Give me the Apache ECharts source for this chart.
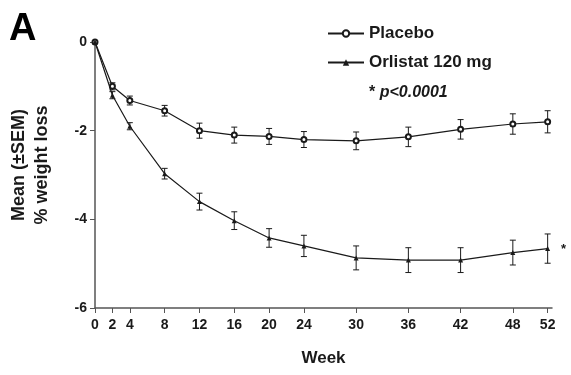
<!DOCTYPE html>
<html>
<head>
<meta charset="utf-8">
<script src="https://cdn.jsdelivr.net/npm/echarts@6/dist/echarts.min.js"></script>
<style>
html,body{margin:0;padding:0;background:#fff;}
#main{width:571px;height:375px;}
</style>
</head>
<body>
<div id="main"></div>
<script>
'use strict'
// data
var weeks = [0, 2, 4, 8, 12, 16, 20, 24, 30, 36, 42, 48, 52];
var placebo = [0, -1.0, -1.32, -1.55, -2.0, -2.1, -2.13, -2.2, -2.23, -2.14, -1.97, -1.85, -1.8];
var placeboSem = [0, 0.08, 0.1, 0.12, 0.17, 0.18, 0.18, 0.18, 0.2, 0.22, 0.22, 0.23, 0.25];
var orlistat = [0, -1.2, -1.9, -2.97, -3.6, -4.03, -4.42, -4.6, -4.87, -4.92, -4.92, -4.75, -4.66];
var orlistatSem = [0, 0.08, 0.08, 0.12, 0.19, 0.2, 0.21, 0.24, 0.27, 0.28, 0.28, 0.28, 0.33];

var FONT = '"Liberation Sans", Arial, sans-serif';
var INK = '#1a1a1a';

function pairs(ys){
	var out = [];
	for (var i = 0; i < weeks.length; i++) out.push([weeks[i], ys[i]]);
	return out;
}
function errRows(ys, sem){
	var out = [];
	for (var i = 0; i < weeks.length; i++){
		if (sem[i] > 0) out.push([weeks[i], ys[i] - sem[i], ys[i] + sem[i]]);
	}
	return out;
}
function errBar(params, api){
	var lo = api.coord([api.value(0), api.value(1)]);
	var hi = api.coord([api.value(0), api.value(2)]);
	var w = 3;
	var st = {stroke: INK, lineWidth: 1};
	return {
		type: 'group',
		children: [
			{type: 'line', shape: {x1: lo[0], y1: lo[1], x2: hi[0], y2: hi[1]}, style: st},
			{type: 'line', shape: {x1: lo[0] - w, y1: lo[1], x2: lo[0] + w, y2: lo[1]}, style: st},
			{type: 'line', shape: {x1: hi[0] - w, y1: hi[1], x2: hi[0] + w, y2: hi[1]}, style: st}
		]
	};
}

var myChart = echarts.init(document.getElementById('main'));
var option = {
	animation: false,
	backgroundColor: '#fff',
	grid: {left: 95, right: 19, top: 42, bottom: 67},
	xAxis: {
		type: 'value',
		min: 0, max: 52.5,
		name: 'Week',
		nameLocation: 'middle',
		nameGap: 42,
		nameTextStyle: {fontFamily: FONT, fontWeight: 'bold', fontSize: 17, color: INK},
		axisLine: {onZero: false, lineStyle: {color: '#555', width: 1.5}},
		axisTick: {show: true, length: 5, customValues: weeks, lineStyle: {color: '#555'}},
		axisLabel: {customValues: weeks, fontFamily: FONT, fontWeight: 'bold', fontSize: 14, color: INK, margin: 10},
		splitLine: {show: false}
	},
	yAxis: {
		type: 'value',
		min: -6, max: 0, interval: 2,
		axisLine: {show: true, onZero: false, lineStyle: {color: '#555', width: 1.5}},
		axisTick: {show: true, length: 5, lineStyle: {color: '#555'}},
		axisLabel: {fontFamily: FONT, fontWeight: 'bold', fontSize: 14, color: INK, margin: 8},
		splitLine: {show: false}
	},
	legend: {
		orient: 'vertical',
		left: 322, top: 20,
		itemWidth: 36, itemHeight: 8,
		itemGap: 12,
		data: ['Placebo', 'Orlistat 120 mg'],
		textStyle: {fontFamily: FONT, fontWeight: 'bold', fontSize: 17, color: INK}
	},
	graphic: [
		{type: 'text', left: 9, top: 11, style: {text: 'A', fontFamily: FONT, fontWeight: 'bold', fontSize: 38, fill: '#000'}},
		{type: 'text', x: 31, y: 165, rotation: Math.PI / 2,
			style: {text: 'Mean (\u00b1SEM)\n% weight loss', fontFamily: FONT, fontWeight: 'bold', fontSize: 18, fill: INK,
				align: 'center', verticalAlign: 'middle', lineHeight: 23}},
		{type: 'text', left: 369, top: 85,
			style: {rich: {a: {fontFamily: FONT, fontWeight: 'bold', fontSize: 16, fill: INK}, b: {fontFamily: FONT, fontWeight: 'bold', fontStyle: 'italic', fontSize: 16, fill: INK}},
				text: '{a|* }{b|p<0.0001}'}},
		{type: 'text', left: 561, top: 243, style: {text: '*', fontFamily: FONT, fontWeight: 'bold', fontSize: 13, fill: INK}}
	],
	series: [
		{
			name: 'Placebo', type: 'line', data: pairs(placebo),
			symbol: 'emptyCircle', symbolSize: 5, showAllSymbol: true,
			itemStyle: {color: INK, borderColor: INK, borderWidth: 1},
			lineStyle: {color: INK, width: 1.2}, z: 3
		},
		{
			name: 'Orlistat 120 mg', type: 'line', data: pairs(orlistat),
			symbol: 'triangle', symbolSize: 5, showAllSymbol: true,
			itemStyle: {color: INK},
			lineStyle: {color: INK, width: 1.2}, z: 3
		},
		{type: 'custom', renderItem: errBar, data: errRows(placebo, placeboSem), encode: {x: 0, y: [1, 2]}, z: 2, silent: true},
		{type: 'custom', renderItem: errBar, data: errRows(orlistat, orlistatSem), encode: {x: 0, y: [1, 2]}, z: 2, silent: true}
	]
};
myChart.setOption(option);
</script>
</body>
</html>
